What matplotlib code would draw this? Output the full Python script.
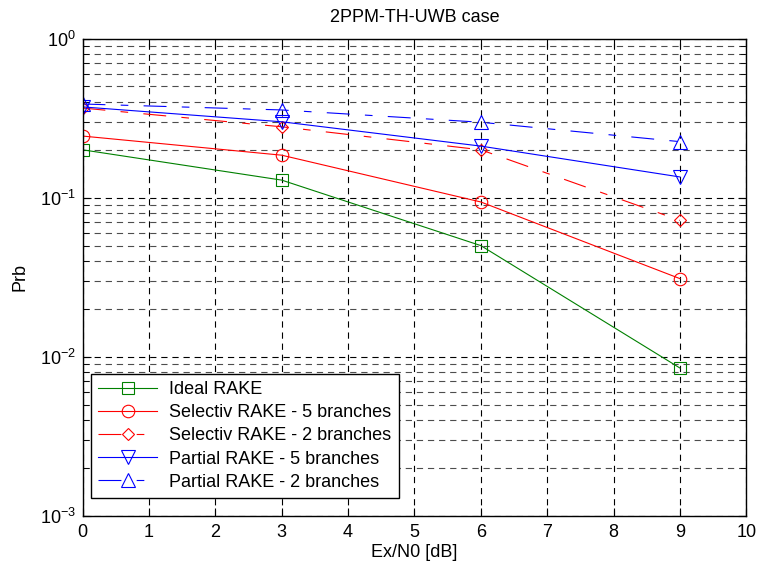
import matplotlib
matplotlib.use("Agg")
import matplotlib.pyplot as plt
from matplotlib.ticker import LogLocator, NullFormatter, FixedLocator

plt.rcParams["font.family"] = ["Liberation Sans", "DejaVu Sans"]
plt.rcParams["mathtext.fontset"] = "custom"
plt.rcParams["mathtext.rm"] = "Liberation Sans"
plt.rcParams["mathtext.it"] = "Liberation Sans"
plt.rcParams["mathtext.default"] = "regular"
plt.rcParams["lines.scale_dashes"] = False

# data
snr_db = [0, 3, 6, 9]
ideal_rake = [0.20, 0.129, 0.050, 0.0085]
selectiv_5 = [0.244, 0.185, 0.094, 0.031]
selectiv_2 = [0.366, 0.279, 0.200, 0.072]
partial_5 = [0.372, 0.300, 0.211, 0.135]
partial_2 = [0.388, 0.356, 0.298, 0.225]

dashdot = (0, (16.5, 11, 5.5, 11))
fs = 13

fig = plt.figure(figsize=(7.57, 5.63), dpi=100)
ax = fig.add_axes([0.109, 0.0835, 0.877, 0.848])

lw = 0.8
ax.plot(snr_db, ideal_rake, color="#008000", ls="-", lw=lw, marker="s", ms=9,
        mfc="none", mew=lw, label="Ideal RAKE")
ax.plot(snr_db, selectiv_5, color="#ff0000", ls="-", lw=lw, marker="o", ms=9,
        mfc="none", mew=lw, label="Selectiv RAKE - 5 branches")
ax.plot(snr_db, selectiv_2, color="#ff0000", ls=dashdot, lw=lw, marker="D", ms=6.5,
        mfc="none", mew=lw, label="Selectiv RAKE - 2 branches")
ax.plot(snr_db, partial_5, color="#0000ff", ls="-", lw=lw, marker="v", ms=10,
        mfc="none", mew=lw, label="Partial RAKE - 5 branches")
ax.plot(snr_db, partial_2, color="#0000ff", ls=dashdot, lw=lw, marker="^", ms=10,
        mfc="none", mew=lw, label="Partial RAKE - 2 branches")

ax.set_yscale("log")
ax.set_xlim(0, 10)
ax.set_ylim(1e-3, 1e0)
ax.xaxis.set_major_locator(FixedLocator(range(0, 11)))
ax.yaxis.set_major_locator(LogLocator(base=10, numticks=10))
ax.yaxis.set_minor_locator(LogLocator(base=10, subs=range(2, 10), numticks=20))
ax.yaxis.set_minor_formatter(NullFormatter())

grid_dash = (0, (4.5, 3.5))
ax.grid(True, which="major", axis="both", color="k", ls=grid_dash, lw=0.8)
ax.grid(True, which="minor", axis="y", color="0.3", ls=grid_dash, lw=0.8)
ax.set_axisbelow(True)

ax.tick_params(which="both", direction="in", top=True, right=True, labelsize=fs)
ax.tick_params(which="major", length=5.5)
ax.tick_params(which="minor", length=4)
ax.tick_params(axis="x", pad=6)
ax.tick_params(axis="y", pad=5)
for s in ax.spines.values():
    s.set_linewidth(1.0)

ax.set_title("2PPM-TH-UWB case", fontsize=fs, pad=12)
ax.set_xlabel("Ex/N0 [dB]", fontsize=fs, labelpad=2)
ax.set_ylabel("Prb", fontsize=fs, labelpad=8)

leg = ax.legend(loc="lower left", bbox_to_anchor=(0.0128, 0.0377), fontsize=fs,
                numpoints=1, handlelength=3.27, fancybox=False, framealpha=1,
                edgecolor="k", borderaxespad=0, labelspacing=0.34,
                handletextpad=0.66, borderpad=0.4)
leg.get_frame().set_linewidth(1.0)

fig.savefig("out.png", dpi=100)
